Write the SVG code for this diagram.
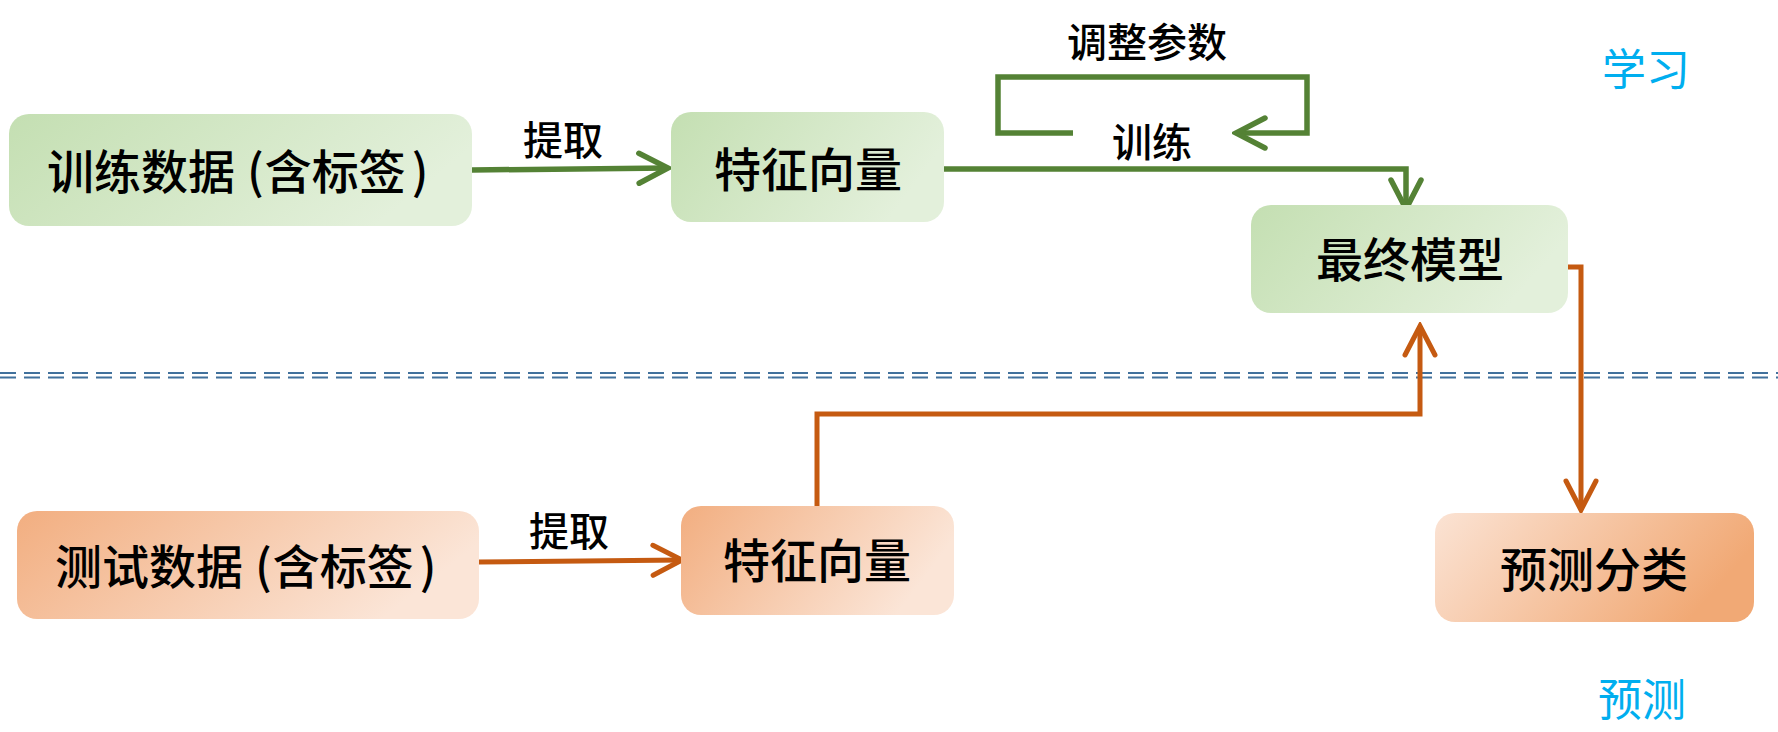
<svg xmlns="http://www.w3.org/2000/svg" width="1778" height="732" viewBox="0 0 1778 732">
  <style>
    text { font-family: "Noto Sans CJK SC", "Noto Sans", sans-serif; fill: #000; text-anchor: middle; }
    .node { font-size: 47px; font-weight: 500; }
    .start { text-anchor: start; }
    .lbl { font-size: 40px; font-weight: 500; }
    .phase { font-size: 44px; fill: #00AEEF; }
    .g { fill: none; stroke: #548235; stroke-width: 5.5; }
    .o { fill: none; stroke: #C55A11; stroke-width: 5; }
    .sep { fill: none; stroke: #41719C; stroke-width: 2.2; stroke-dasharray: 16 8; }
  </style>
  <defs>
    <linearGradient id="gG" x1="0" y1="0" x2="1" y2="0.3">
      <stop offset="0" stop-color="#c4dfb2"/>
      <stop offset="1" stop-color="#e3f0db"/>
    </linearGradient>
    <linearGradient id="gO" x1="0" y1="0" x2="1" y2="0.3">
      <stop offset="0" stop-color="#f2ae80"/>
      <stop offset="1" stop-color="#fbe5d7"/>
    </linearGradient>
    <linearGradient id="gOr" x1="0" y1="0" x2="1" y2="0.3">
      <stop offset="0" stop-color="#fbe3d4"/>
      <stop offset="1" stop-color="#f1a975"/>
    </linearGradient>
    <marker id="aG" markerUnits="userSpaceOnUse" viewBox="-34 -18 38 36" refX="0" refY="0" markerWidth="38" markerHeight="36" orient="auto">
      <path d="M -29 -15 L 0 0 L -29 15" fill="none" stroke="#548235" stroke-width="5.5" stroke-linecap="round" stroke-linejoin="miter"/>
    </marker>
    <marker id="aO" markerUnits="userSpaceOnUse" viewBox="-34 -18 38 36" refX="0" refY="0" markerWidth="38" markerHeight="36" orient="auto">
      <path d="M -29 -15 L 0 0 L -29 15" fill="none" stroke="#C55A11" stroke-width="5" stroke-linecap="round" stroke-linejoin="miter"/>
    </marker>
  </defs>

  <rect width="1778" height="732" fill="#ffffff"/>

  <g id="separator">
    <line class="sep" x1="0" y1="373" x2="1778" y2="373"/>
    <line class="sep" x1="0" y1="377.5" x2="1778" y2="377.5"/>
  </g>

  <g id="connectors">
    <line class="g" x1="472" y1="170" x2="668" y2="168" marker-end="url(#aG)"/>
    <polyline class="g" points="1073,133 998,133 998,77 1307,77 1307,133 1236,133" marker-end="url(#aG)"/>
    <polyline class="g" points="944,169 1406,169 1406,209" marker-end="url(#aG)"/>
    <line class="o" x1="479" y1="562" x2="682" y2="560" marker-end="url(#aO)"/>
    <polyline class="o" points="817,506 817,414 1420,414 1420,326" marker-end="url(#aO)"/>
    <polyline class="o" points="1566,267 1581,267 1581,510" marker-end="url(#aO)"/>
  </g>

  <g id="train-data">
    <rect x="9" y="114" width="463" height="112" rx="20" fill="url(#gG)"/>
    <text class="node start" x="47" y="189">训练数据<tspan dx="12">(</tspan><tspan dx="1">含标签</tspan><tspan dx="6">)</tspan></text>
  </g>
  <g id="train-feature">
    <rect x="671" y="112" width="273" height="110" rx="20" fill="url(#gG)"/>
    <text class="node" x="808" y="187">特征向量</text>
  </g>
  <g id="final-model">
    <rect x="1251" y="205" width="317" height="108" rx="20" fill="url(#gG)"/>
    <text class="node" x="1410" y="277">最终模型</text>
  </g>
  <g id="test-data">
    <rect x="17" y="511" width="462" height="108" rx="20" fill="url(#gO)"/>
    <text class="node start" x="55" y="584">测试数据<tspan dx="12">(</tspan><tspan dx="1">含标签</tspan><tspan dx="6">)</tspan></text>
  </g>
  <g id="test-feature">
    <rect x="681" y="506" width="273" height="109" rx="20" fill="url(#gO)"/>
    <text class="node" x="817" y="578">特征向量</text>
  </g>
  <g id="predict">
    <rect x="1435" y="513" width="319" height="109" rx="20" fill="url(#gOr)"/>
    <text class="node" x="1594" y="587">预测分类</text>
  </g>

  <g id="labels">
    <text class="lbl" x="563" y="155">提取</text>
    <text class="lbl" x="569" y="546">提取</text>
    <text class="lbl" x="1147" y="57">调整参数</text>
    <text class="lbl" x="1152" y="157">训练</text>
    <text class="phase" x="1646" y="86">学习</text>
    <text class="phase" x="1642" y="716">预测</text>
  </g>
</svg>
